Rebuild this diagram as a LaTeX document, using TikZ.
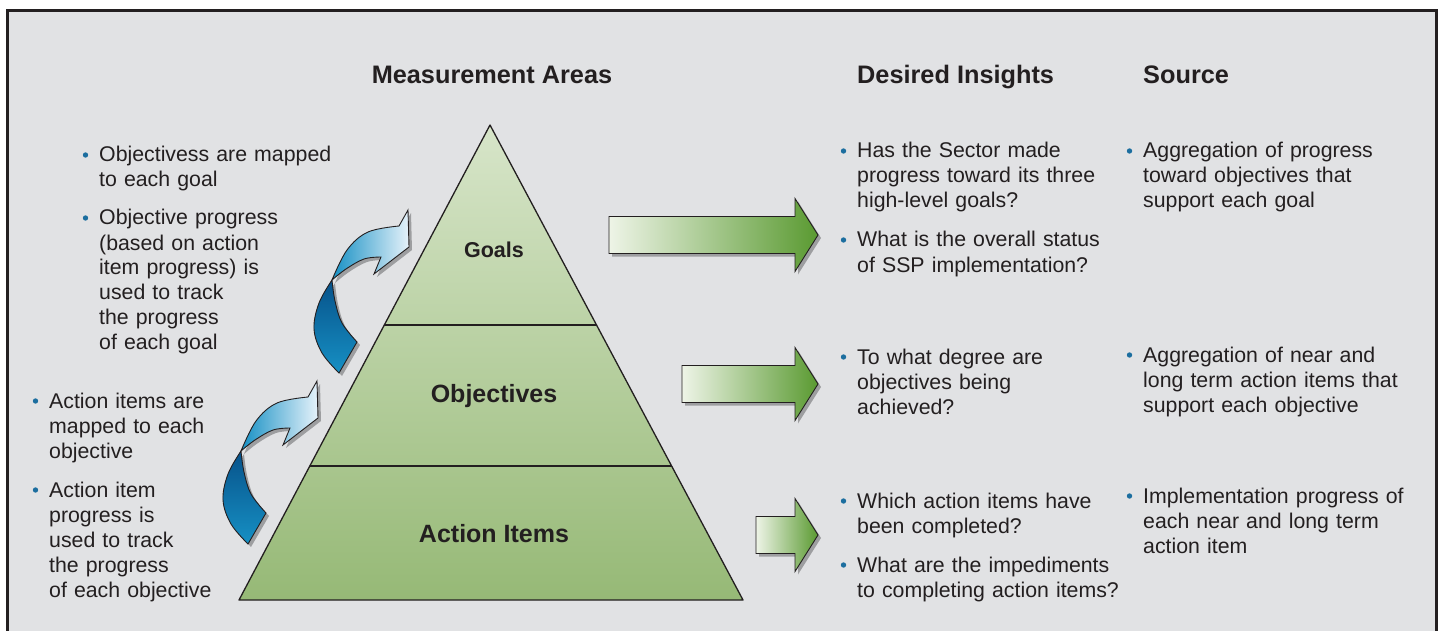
\documentclass[tikz,border=0pt]{standalone}
\usepackage{fontspec}
\setmainfont{Liberation Sans}
\usetikzlibrary{calc}

\definecolor{bgc}{HTML}{E1E2E4}
\definecolor{inkc}{HTML}{231F20}
\definecolor{bulc}{HTML}{1C6E9F}
\definecolor{pyrtop}{HTML}{D7E5C9}
\definecolor{pyrbot}{HTML}{96B976}
\definecolor{grnlo}{HTML}{EEF4E7}
\definecolor{grnhi}{HTML}{5A9A31}
\definecolor{bluedk}{HTML}{07528A}
\definecolor{bluemd}{HTML}{1690C4}
\definecolor{bluelt}{HTML}{E6F2FA}
\definecolor{shdc}{HTML}{8D8E90}

% parts of the curved blue arrow (lower one, in pixel units)
\newcommand{\lobeup}{plot[smooth, tension=.6] coordinates {(241,451) (256,421) (277,403) (308,397)} -- (317,381) -- (318,418) -- (283,445) -- plot[smooth, tension=.6] coordinates {(290,428) (273,430) (255,440) (241,451)} -- cycle}
\newcommand{\lobedn}{plot[smooth, tension=.6] coordinates {(241,451) (228,474) (223,500) (231,524) (248,544)} -- plot[smooth, tension=.6] coordinates {(266,513) (251,494) (244,472) (241,451)} -- cycle}
\newcommand{\grnarrow}{(\lx,\cy-18.5) -- (795,\cy-18.5) -- (795,\cy-36.5) -- (818,\cy) -- (795,\cy+36.5) -- (795,\cy+18.5) -- (\lx,\cy+18.5) -- cycle}

\tikzset{
  txt/.style={anchor=base west, inner sep=0pt, text width=300pt, align=left, text=inkc, font=\fontsize{21.3}{25}\selectfont},
  hdr/.style={anchor=base west, inner sep=0pt, text=inkc, font=\fontsize{25.3}{28}\selectfont\bfseries},
  lvl/.style={anchor=base, inner sep=0pt, text=inkc, font=\fontsize{25}{28}\selectfont\bfseries},
  outl/.style={draw=inkc, line width=.9pt}
}

\begin{document}
\begin{tikzpicture}[x=1pt,y=-1pt]
	\useasboundingbox (0,0) rectangle (1440,631);
	\fill[bgc] (7.5,10.5) rectangle (1436.5,631);
	\draw[inkc, line width=2.6pt] (7.5,633) -- (7.5,10.5) -- (1436.5,10.5) -- (1436.5,633);

	% pyramid
	\coordinate (apex) at (490,125);
	\coordinate (bl) at (239,600);
	\coordinate (br) at (743,600);
	\shade[top color=pyrtop, bottom color=pyrbot] (apex) -- (br) -- (bl) -- cycle;
	\draw[inkc, line width=1.3pt, line join=round] (apex) -- (br) -- (bl) -- cycle;
	\draw[inkc, line width=1.3pt] ($(apex)!200/475!(bl)$) -- ($(apex)!200/475!(br)$);
	\draw[inkc, line width=1.3pt] ($(apex)!341/475!(bl)$) -- ($(apex)!341/475!(br)$);

	\node[lvl, font=\fontsize{21.5}{25}\selectfont\bfseries] (lvgoal) at (494,258) {Goals};
	\node[lvl] (lvobj) at (494,402) {Objectives};
	\node[lvl] (lvact) at (494,542) {Action Items};

	% curved blue arrows
	\foreach \dx/\dy in {0/0, 91/-171}
		{
			\begin{scope}[shift={(\dx,\dy)}]
				\fill[shdc, opacity=.8, shift={(3,3)}] \lobeup;
				\fill[shdc, opacity=.8, shift={(3,3)}] \lobedn;
				\shadedraw[left color=bluemd, right color=bluelt, outl] \lobeup;
				\shadedraw[top color=bluedk, bottom color=bluemd, outl] \lobedn;
			\end{scope}
		}

	% green arrows
	\foreach \cy/\lx in {235/609, 384/682, 535/756}
		{
			\fill[shdc, opacity=.8, shift={(3,3)}] \grnarrow;
			\shadedraw[left color=grnlo, right color=grnhi, outl] \grnarrow;
		}

	% headings
	\node[hdr, anchor=base] (hdmeas) at (492,84) {Measurement Areas};
	\node[hdr] (hdins) at (857,84) {Desired Insights};
	\node[hdr] (hdsrc) at (1143,84) {Source};

	% left notes
	\node[txt] (mg1) at (99,162) {Objectivess are mapped\\to each goal};
	\node[txt] (mg2) at (99,225) {Objective progress\\(based on action\\item progress) is\\used to track\\the progress\\of each goal};
	\node[txt] (mo1) at (49,408) {Action items are\\mapped to each\\objective};
	\node[txt] (mo2) at (49,497) {Action item\\progress is\\used to track\\the progress\\of each objective};

	% desired insights
	\node[txt] (dg1) at (857,158) {Has the Sector made\\progress toward its three\\high-level goals?};
	\node[txt] (dg2) at (857,247) {What is the overall status\\of SSP implementation?};
	\node[txt] (do1) at (857,364) {To what degree are\\objectives being\\achieved?};
	\node[txt] (da1) at (857,508) {Which action items have\\been completed?};
	\node[txt] (da2) at (857,572) {What are the impediments\\to completing action items?};

	% sources
	\node[txt] (sg1) at (1143,158) {Aggregation of progress\\toward objectives that\\support each goal};
	\node[txt] (so1) at (1143,362) {Aggregation of near and\\long term action items that\\support each objective};
	\node[txt] (sa1) at (1143,503) {Implementation progress of\\each near and long term\\action item};

	\foreach \n in {mg1,mg2,mo1,mo2,dg1,dg2,do1,da1,da2,sg1,so1,sa1}
		{
			\fill[bulc] ([xshift=-13.5pt,yshift=7pt]\n.base west) circle[radius=2.7pt];
		}
\end{tikzpicture}
\end{document}
